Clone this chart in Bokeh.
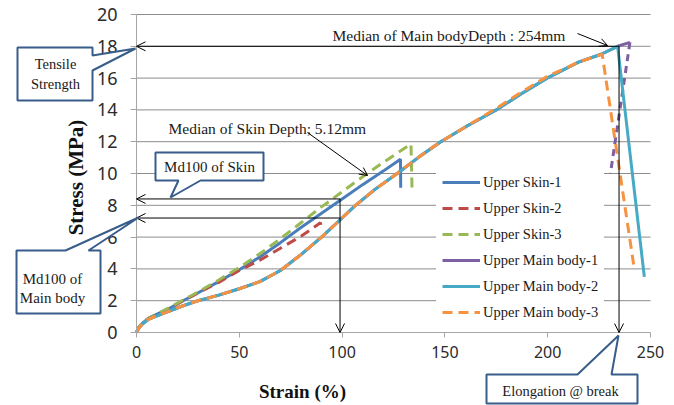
import math
from bokeh.plotting import figure
from bokeh.models import (Label, Arrow, OpenHead, PolyAnnotation, FixedTicker,
                          Legend, LegendItem, Range1d)
from bokeh.embed import file_html
from bokeh.resources import INLINE

# ---------------- data ----------------
x_ticks = [0, 50, 100, 150, 200, 250]
y_ticks = [0, 2, 4, 6, 8, 10, 12, 14, 16, 18, 20]

skin1_strain = [0, 1, 3, 6, 10, 15, 22, 30, 40, 50, 60, 70, 80, 90, 100, 110, 120, 128.4, 128.5]
skin1_stress = [0, 0.3, 0.6, 0.9, 1.15, 1.45, 1.95, 2.5, 3.2, 3.95, 4.75, 5.65, 6.6, 7.5, 8.4, 9.3, 10.15, 10.9, 9.1]

skin2_strain = [0, 1, 3, 6, 10, 15, 22, 30, 40, 50, 60, 70, 80, 89.5, 90]
skin2_stress = [0, 0.3, 0.6, 0.9, 1.15, 1.45, 1.95, 2.5, 3.15, 3.9, 4.55, 5.3, 6.05, 6.9, 6.4]

skin3_strain = [0, 1, 3, 6, 10, 15, 22, 30, 40, 50, 60, 70, 80, 90, 100, 110, 120, 133.5, 134]
skin3_stress = [0, 0.3, 0.6, 0.9, 1.15, 1.5, 2.0, 2.55, 3.3, 4.1, 4.95, 5.9, 6.9, 7.9, 8.85, 9.8, 10.7, 11.85, 9.1]

main1_strain = [0, 1, 3, 6, 10, 15, 22, 30, 40, 50, 60, 70, 80, 90, 100, 106.5, 116, 126.8, 137, 148, 161, 175, 187, 199.7, 215, 226, 234, 240]
main1_stress = [0, 0.25, 0.55, 0.85, 1.05, 1.3, 1.65, 2.0, 2.35, 2.75, 3.2, 3.9, 4.9, 6.0, 7.2, 8.0, 9.0, 10.0, 11.0, 12.0, 13.0, 14.0, 15.0, 16.0, 17.0, 17.5, 18.0, 18.25]
main1_drop_strain = [240, 230.5]
main1_drop_stress = [18.25, 10.0]

main2_strain = [0, 1, 3, 6, 10, 15, 22, 30, 40, 50, 60, 70, 80, 90, 100, 106.5, 116, 126.8, 137, 148, 161, 175, 187, 199.7, 215, 226, 234, 247]
main2_stress = [0, 0.25, 0.55, 0.85, 1.05, 1.3, 1.65, 2.0, 2.35, 2.75, 3.2, 3.9, 4.9, 6.0, 7.2, 8.0, 9.0, 10.0, 11.0, 12.0, 13.0, 14.0, 15.0, 16.0, 17.0, 17.5, 18.0, 3.5]

main3_strain = [0, 1, 3, 6, 10, 15, 22, 30, 40, 50, 60, 70, 80, 90, 100, 106.5, 116, 126.8, 137, 148, 161, 175, 187, 199.7, 215, 226.5, 242]
main3_stress = [0, 0.25, 0.55, 0.85, 1.05, 1.3, 1.65, 2.0, 2.35, 2.75, 3.2, 3.9, 4.9, 6.0, 7.2, 8.0, 9.0, 10.0, 11.0, 12.0, 13.0, 14.1, 15.1, 16.1, 17.0, 17.5, 4.1]

tensile_strength = 18.0
elongation_break = 234.7
md100_skin = 8.4
md100_main = 7.2
md100_strain = 99.0

X_MIN, X_MAX = 0, 250
Y_MIN, Y_MAX = 0, 20

# ---------------- layout (canvas pixels) ----------------
W, H = 674, 405
PLOT_L, PLOT_R, PLOT_T, PLOT_B = 136, 650, 14, 332   # data area in canvas px
SX = (PLOT_R - PLOT_L) / (X_MAX - X_MIN)
SY = (PLOT_B - PLOT_T) / (Y_MAX - Y_MIN)

def dx(px):
    return X_MIN + (px - PLOT_L) / SX

def dy(py):
    return Y_MIN + (PLOT_B - py) / SY

p = figure(width=W, height=H,
           x_range=Range1d(dx(0), dx(W)), y_range=Range1d(dy(H), dy(0)),
           output_backend="svg", toolbar_location=None,
           min_border=0, min_border_left=0, min_border_right=0,
           min_border_top=0, min_border_bottom=0)
p.outline_line_color = None
p.background_fill_color = "white"
p.border_fill_color = "white"
p.grid.visible = False

# axes drawn at the data origin
p.xaxis.fixed_location = Y_MIN
p.yaxis.fixed_location = X_MIN
p.xaxis.bounds = (X_MIN, X_MAX)
p.yaxis.bounds = (Y_MIN, Y_MAX)
p.xaxis.ticker = FixedTicker(ticks=x_ticks)
p.yaxis.ticker = FixedTicker(ticks=y_ticks)
for ax in (p.xaxis, p.yaxis):
    ax.axis_line_color = "#a6a6a6"
    ax.major_tick_line_color = "#a6a6a6"
    ax.major_tick_in = 0
    ax.minor_tick_in = 0
    ax.minor_tick_out = 0
    ax.major_label_text_font = "Noto Sans"
    ax.major_label_text_color = "#2b2b2b"
p.xaxis.major_tick_out = 5
p.xaxis.major_label_standoff = 8
p.xaxis.major_label_text_font_size = "16px"
p.yaxis.major_tick_out = 6
p.yaxis.major_label_standoff = 13
p.yaxis.major_label_text_font_size = "18px"

# horizontal gridlines across the data area only
grid_y = [t for t in y_ticks if t != Y_MIN]
p.segment(x0=[X_MIN] * len(grid_y), y0=grid_y, x1=[X_MAX] * len(grid_y), y1=grid_y,
          line_color="#8c8c8c", line_width=1)

# series
LW = 3
DASH = "10 6"
r1 = p.line(skin1_strain, skin1_stress, line_color="#4A7EBB", line_width=LW)
r2 = p.line(skin2_strain, skin2_stress, line_color="#BE4B48", line_width=LW, line_dash=DASH)
r3 = p.line(skin3_strain, skin3_stress, line_color="#98B954", line_width=LW, line_dash=DASH)
r4 = p.line(main1_strain, main1_stress, line_color="#7D60A0", line_width=LW)
p.line(main1_drop_strain, main1_drop_stress, line_color="#7D60A0", line_width=LW, line_dash="7 5")
r5 = p.line(main2_strain, main2_stress, line_color="#46AAC5", line_width=LW)
r6 = p.line(main3_strain, main3_stress, line_color="#F69240", line_width=LW, line_dash=DASH)

legend = Legend(items=[
    LegendItem(label="Upper Skin-1", renderers=[r1]),
    LegendItem(label="Upper Skin-2", renderers=[r2]),
    LegendItem(label="Upper Skin-3", renderers=[r3]),
    LegendItem(label="Upper Main body-1", renderers=[r4]),
    LegendItem(label="Upper Main body-2", renderers=[r5]),
    LegendItem(label="Upper Main body-3", renderers=[r6]),
], location=(436, H - PLOT_B + 1))
legend.padding = 6
legend.spacing = 0
legend.margin = 0
legend.glyph_width = 38
legend.glyph_height = 26
legend.label_height = 26
legend.label_standoff = 3
legend.label_text_font = "Liberation Serif"
legend.label_text_font_size = "14.5px"
legend.label_text_color = "#1a1a1a"
legend.border_line_alpha = 0
legend.background_fill_color = "white"
legend.background_fill_alpha = 1
p.add_layout(legend)

# annotation lines with arrows
def arrow(x0, y0, x1, y1, size=9):
    p.add_layout(Arrow(end=OpenHead(size=size, line_width=1, line_color="black"),
                       x_start=x0, y_start=y0, x_end=x1, y_end=y1,
                       line_color="black", line_width=1))

arrow(elongation_break, tensile_strength, X_MIN, tensile_strength)
arrow(elongation_break, tensile_strength, elongation_break, Y_MIN)
arrow(md100_strain, md100_skin, X_MIN, md100_skin)
arrow(md100_strain, md100_main, X_MIN, md100_main)
arrow(md100_strain, md100_skin, md100_strain, Y_MIN)
arrow(dx(577), dy(33), dx(607), dy(45), size=8)
arrow(dx(307), dy(132), dx(367), dy(175), size=8)

SERIF = "Liberation Serif"
def text(px, py, s, size="15.5px", align="left", bold=False, angle=0.0, color="#1a1a1a"):
    p.add_layout(Label(x=dx(px), y=dy(py), text=s, text_font=SERIF,
                       text_font_size=size, text_align=align,
                       text_baseline="middle", angle=angle,
                       text_font_style="bold" if bold else "normal",
                       text_color=color))

text(332, 35, "Median of Main bodyDepth : 254mm")
text(168, 128, "Median of Skin Depth; 5.12mm")

# callout boxes
CALLOUT = "#385D8A"
def callout(pts):
    p.add_layout(PolyAnnotation(xs=[dx(a) for a, b in pts], ys=[dy(b) for a, b in pts],
                                fill_color="white", fill_alpha=1,
                                line_color=CALLOUT, line_alpha=1, line_width=2))

callout([(17, 47), (92, 47), (92, 55), (135, 48), (92, 70), (92, 100), (17, 100)])
callout([(155, 152), (263, 152), (263, 180), (200, 180), (170, 197), (178, 180), (155, 180)])
callout([(16, 250), (65, 250), (138, 217), (88, 250), (100, 250), (100, 313), (16, 313)])
callout([(486, 374), (577, 374), (618, 335), (611, 374), (637, 374), (637, 403), (486, 403)])

text(55, 63, "Tensile", size="14.5px", align="center")
text(55, 83, "Strength", size="14.5px", align="center")
text(209, 166, "Md100 of Skin", size="15px", align="center")
text(52, 278, "Md100 of", size="15px", align="center")
text(52, 297, "Main body", size="15px", align="center")
text(560, 390, "Elongation @ break", size="14.5px", align="center")

# axis titles
text(302, 391, "Strain (%)", size="19px", align="center", bold=True, color="#111111")
text(75, 177, "Stress (MPa)", size="21px", align="center", bold=True, angle=math.pi / 2, color="#111111")

open("out.html", "w").write(file_html(p, INLINE))
